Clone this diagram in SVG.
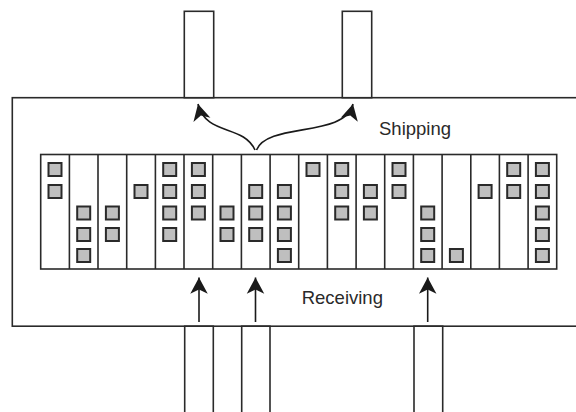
<svg xmlns="http://www.w3.org/2000/svg" width="576" height="412" viewBox="0 0 576 412">
<style>
.ln{fill:none;stroke:#2a2a2a;stroke-width:1.6}
.wh{fill:#fff;stroke:#2a2a2a;stroke-width:1.6}
.bx{fill:#bfbfbf;stroke:#2a2a2a;stroke-width:2}
.lbl{font-family:"Liberation Sans",Arial,sans-serif;font-size:18.5px;fill:#2a2a2a}
.ar{fill:none;stroke:#1a1a1a;stroke-width:1.6;marker-end:url(#ah)}
</style>
<defs>
<marker id="ah" markerUnits="userSpaceOnUse" markerWidth="20" markerHeight="20" viewBox="-14 -8 16 16" refX="0" refY="0" orient="auto">
<path d="M0,0 L-13,-7 L-9.5,0 L-13,7 Z" fill="#1a1a1a"/>
</marker>
<rect id="b" class="bx" width="13" height="13"/>
</defs>
<g id="building">
<rect class="wh" x="12.3" y="97.7" width="600" height="228.5"/>
</g>
<g id="shipping-docks">
<rect id="dock-ship-1" class="wh" x="184.3" y="11.3" width="29.4" height="86.4"/>
<rect id="dock-ship-2" class="wh" x="342.3" y="11.3" width="29.4" height="86.4"/>
</g>
<g id="receiving-docks">
<rect id="dock-recv-1" class="wh" x="184.7" y="326.2" width="28.6" height="100"/>
<rect id="dock-recv-2" class="wh" x="241.7" y="326.2" width="28.3" height="100"/>
<rect id="dock-recv-3" class="wh" x="414" y="326.2" width="28.7" height="100"/>
</g>
<g id="rack">
<rect class="wh" x="40.7" y="154.5" width="516" height="114.5"/>
<path class="ln" d="M69.4,154.5V269 M98,154.5V269 M126.7,154.5V269 M155.4,154.5V269 M184,154.5V269 M212.7,154.5V269 M241.4,154.5V269 M270.1,154.5V269 M298.7,154.5V269 M327.4,154.5V269 M356.1,154.5V269 M384.7,154.5V269 M413.4,154.5V269 M442.1,154.5V269 M470.8,154.5V269 M499.4,154.5V269 M528.1,154.5V269"/>
</g>
<g id="stock">
<use href="#b" x="48.5" y="163"/><use href="#b" x="48.5" y="185"/>
<use href="#b" x="77.2" y="206.5"/><use href="#b" x="77.2" y="228"/><use href="#b" x="77.2" y="249"/>
<use href="#b" x="105.9" y="206.5"/><use href="#b" x="105.9" y="228"/>
<use href="#b" x="134.5" y="185"/>
<use href="#b" x="163.2" y="163"/><use href="#b" x="163.2" y="185"/><use href="#b" x="163.2" y="206.5"/><use href="#b" x="163.2" y="228"/>
<use href="#b" x="191.9" y="163"/><use href="#b" x="191.9" y="185"/><use href="#b" x="191.9" y="206.5"/>
<use href="#b" x="220.5" y="206.5"/><use href="#b" x="220.5" y="228"/>
<use href="#b" x="249.2" y="185"/><use href="#b" x="249.2" y="206.5"/><use href="#b" x="249.2" y="228"/>
<use href="#b" x="277.9" y="185"/><use href="#b" x="277.9" y="206.5"/><use href="#b" x="277.9" y="228"/><use href="#b" x="277.9" y="249"/>
<use href="#b" x="306.5" y="163"/>
<use href="#b" x="335.2" y="163"/><use href="#b" x="335.2" y="185"/><use href="#b" x="335.2" y="206.5"/>
<use href="#b" x="363.9" y="185"/><use href="#b" x="363.9" y="206.5"/>
<use href="#b" x="392.5" y="163"/><use href="#b" x="392.5" y="185"/>
<use href="#b" x="421.2" y="206.5"/><use href="#b" x="421.2" y="228"/><use href="#b" x="421.2" y="249"/>
<use href="#b" x="449.9" y="249"/>
<use href="#b" x="478.6" y="185"/>
<use href="#b" x="507.2" y="163"/><use href="#b" x="507.2" y="185"/>
<use href="#b" x="535.9" y="163"/><use href="#b" x="535.9" y="185"/><use href="#b" x="535.9" y="206.5"/><use href="#b" x="535.9" y="228"/><use href="#b" x="535.9" y="249"/>
</g>
<g id="connectors">
<path class="ar" d="M255,150 C243,124 206,136 198,104"/>
<path class="ar" d="M256.5,150 C268,122 345,138 353,104"/>
<path class="ar" d="M199,322 V277.5"/>
<path class="ar" d="M255.5,322 V277.5"/>
<path class="ar" d="M427.7,322 V277.5"/>
</g>
<g id="labels">
<text class="lbl" x="379" y="135">Shipping</text>
<text class="lbl" x="301.7" y="304.3">Receiving</text>
</g>
</svg>
